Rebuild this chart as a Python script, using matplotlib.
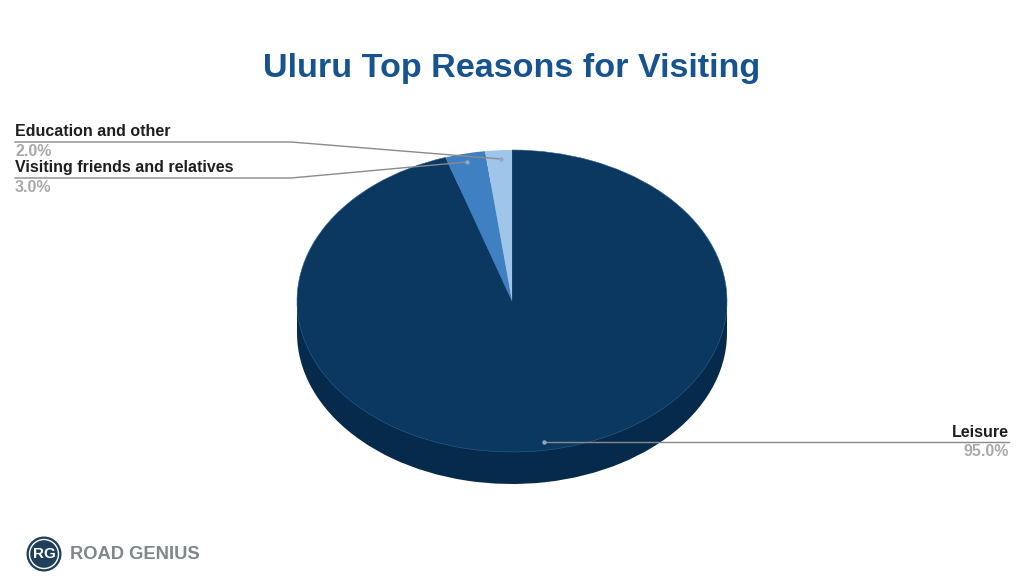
import matplotlib.pyplot as plt
from matplotlib.patches import Circle

plt.rcParams['font.family'] = ['Liberation Sans', 'DejaVu Sans']

# Data
reasons = ["Leisure", "Visiting friends and relatives", "Education and other"]
shares = [95.0, 3.0, 2.0]
top_colors = ["#0a3861", "#3f80c3", "#9fc5e8"]
side_colors = ["#062a4c", "#2c5f96", "#7ba3c9"]

W, H = 1024, 582
fig = plt.figure(figsize=(W / 100, H / 100), dpi=100, facecolor="white")

# ---------- PIE ----------
# axes box puts the unit pie on an ellipse 430 wide, 302 tall
cx, cy, rx, ry = 512, 301, 215, 151
depth = 32 / ry
ax = fig.add_axes([(cx - rx) / W, 1 - (cy + ry + 32) / H, 2 * rx / W, (2 * ry + 32) / H])

ax.pie(shares, colors=side_colors, startangle=90, counterclock=False,
       center=(0, -depth), radius=1)
ax.fill_between([-1, 1], -depth, 0, color=side_colors[0], lw=0, zorder=0.5)
wedges, _ = ax.pie(shares, colors=top_colors, startangle=90, counterclock=False,
                   radius=1, wedgeprops={"linewidth": 0})
for w in wedges:
    w.set_zorder(3)
# faint rim between the top face and the side
wedges[0].set_edgecolor("#2f6190")
wedges[0].set_linewidth(0.4)
ax.set_aspect("auto")
ax.set_xlim(-1, 1)
ax.set_ylim(-1 - depth, 1)
ax.axis("off")

# ---------- TEXT AND LEADERS (pixel coordinates) ----------
ov = fig.add_axes([0, 0, 1, 1], facecolor="none", zorder=5)
ov.set_xlim(0, W)
ov.set_ylim(H, 0)
ov.axis("off")

line_col = "#8a8a8a"
label_col = "#1e1e1e"
pct_col = "#a9a9a9"

leaders = [
    ([1009, 544], [442, 442]),
    ([15, 291, 467], [178, 178, 162]),
    ([15, 291, 501], [142, 142, 159]),
]
for xs, ys in leaders:
    ov.plot(xs, ys, color=line_col, lw=1.0, solid_joinstyle="round")
    ov.plot(xs[-1], ys[-1], "o", ms=3.2, color="#8fa9c4", mew=0)

label_pos = [(1009, 432.5, 452, "right"), (15, 167.5, 187.5, "left"), (15, 132, 151.5, "left")]
for name, val, (x, y1, y2, ha) in zip(reasons, shares, label_pos):
    ov.text(x, y1, name, ha=ha, va="center", fontsize=11.5, fontweight="bold", color=label_col)
    ov.text(x, y2, f"{val:.1f}%", ha=ha, va="center", fontsize=11.5, fontweight="bold", color=pct_col)

ov.text(512, 68, "Uluru Top Reasons for Visiting", ha="center", va="center",
        fontsize=24.6, fontweight="bold", color="#17548f")

# ---------- LOGO ----------
ov.add_patch(Circle((44, 554), 17.5, facecolor="#1f3f5b", edgecolor="none"))
ov.add_patch(Circle((44, 554), 14.5, facecolor="none", edgecolor="white", lw=1))
ov.text(44, 554.5, "RG", ha="center", va="center", fontsize=11, fontweight="bold", color="white")
ov.text(70, 554.5, "ROAD GENIUS", ha="left", va="center", fontsize=13.2, fontweight="bold", color="#7f8789")

fig.savefig("out.png", dpi=100)
